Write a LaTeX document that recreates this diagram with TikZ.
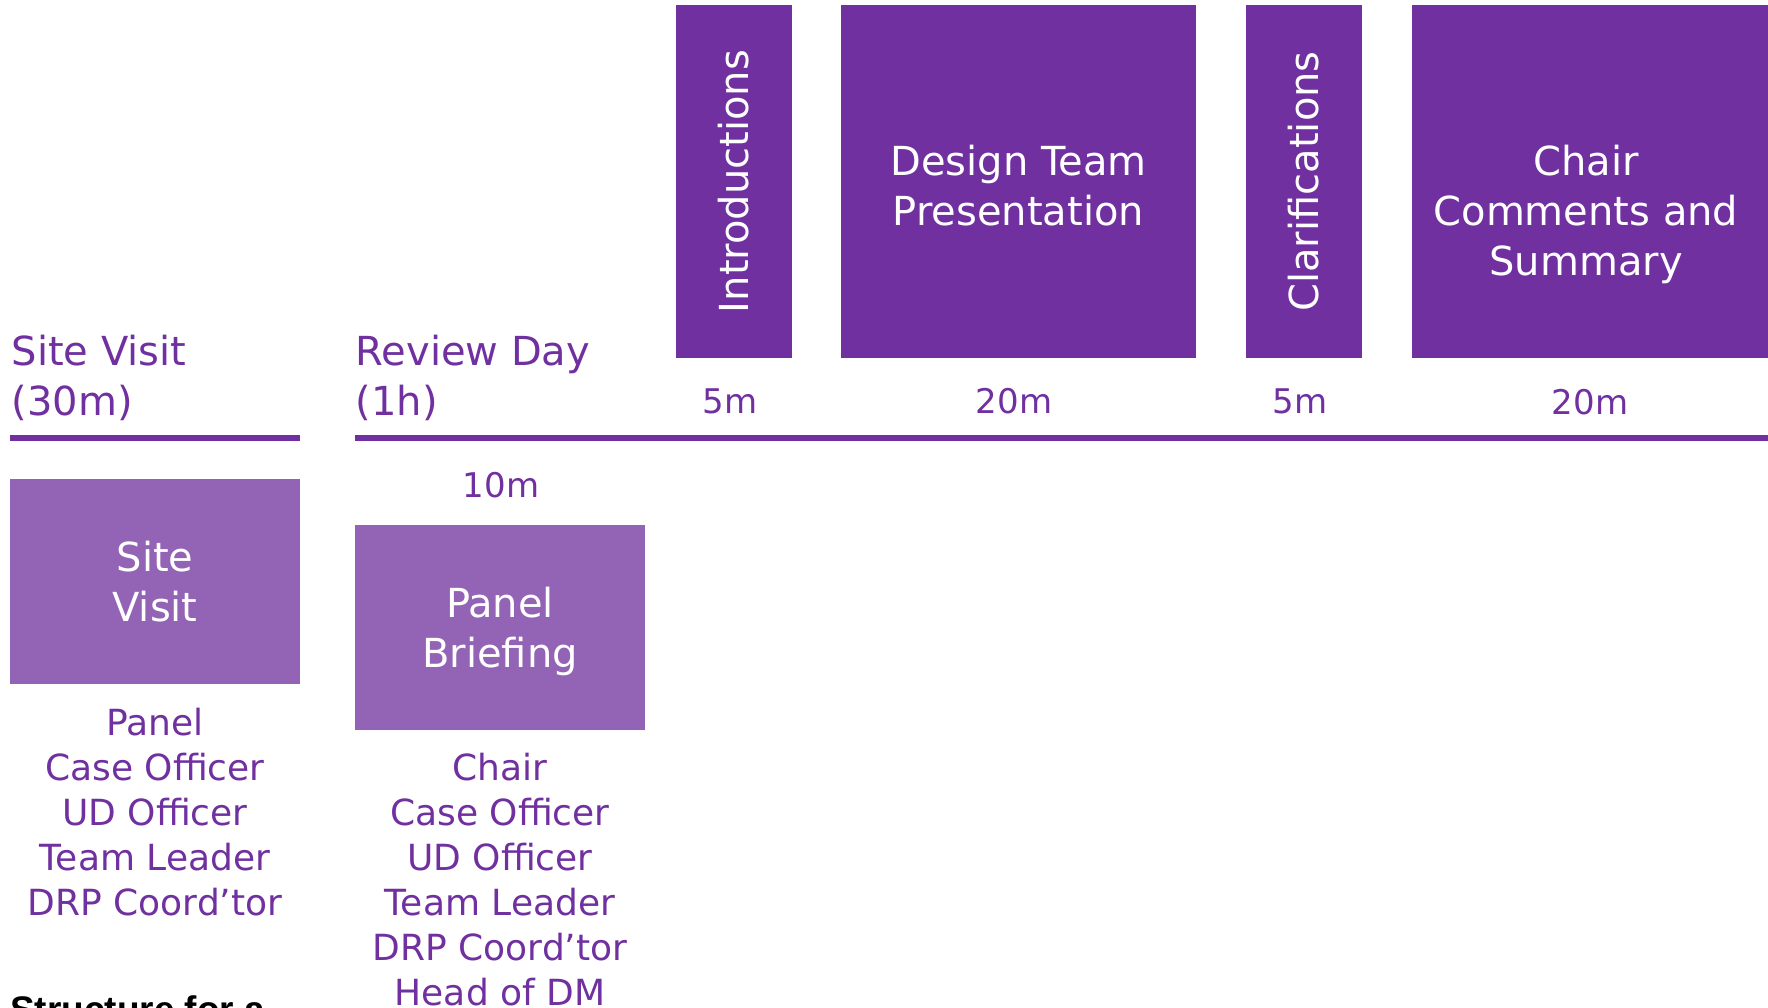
\documentclass[tikz,border=0pt]{standalone}
\usepackage{fontspec}
\setmainfont{DejaVu Sans}
\newfontfamily\titlefont{Liberation Sans}
\usepackage{xcolor}
\usetikzlibrary{positioning}
\definecolor{drpPurple}{HTML}{7030A0}
\definecolor{drpLilac}{RGB}{147,99,181}

\begin{document}
\begin{tikzpicture}[
	%	style def
    x=1pt, y=-1pt,
    stage box/.style={fill=drpPurple, draw=none, inner sep=0pt, outer sep=0pt},
    brief box/.style={fill=drpLilac, draw=none, inner sep=0pt, outer sep=0pt},
    box text/.style={text=white, align=center, inner sep=0pt, font=\fontsize{40}{50}\selectfont},
    time text/.style={text=drpPurple, inner sep=0pt, anchor=base, font=\fontsize{34}{40}\selectfont},
    who text/.style={text=drpPurple, align=center, inner sep=0pt, anchor=north, font=\fontsize{36}{45}\selectfont},
    head text/.style={text=drpPurple, align=left, inner sep=0pt, anchor=north west, font=\fontsize{40}{50}\selectfont},
    head line/.style={drpPurple, line width=6pt}
    ]
    \clip (0,0) rectangle (1768,1008);

	% review day stages
    \node[stage box, minimum width=116pt, minimum height=353pt] (intro) at (734,181.5) {};
    \node[stage box, minimum width=355pt, minimum height=353pt] (dtp) at (1018.5,181.5) {};
    \node[stage box, minimum width=116pt, minimum height=353pt] (clar) at (1304,181.5) {};
    \node[stage box, minimum width=356pt, minimum height=353pt] (chair) at (1590,181.5) {};
    \node[box text, rotate=90] (introT) at (intro.center) {Introductions};
    \node[box text, anchor=north, below=140pt of dtp.north] (dtpT) {Design Team\\Presentation};
    \node[box text, rotate=90] (clarT) at (clar.center) {Clarifications};
    \node[box text, anchor=north] (chairT) at (1586,145) {Chair\\Comments and\\Summary};

    % stage times
    \node[time text] (introM) at (730,413) {5m};
    \node[time text] (dtpM) at (1014,413) {20m};
    \node[time text] (clarM) at (1300,413) {5m};
    \node[time text] (chairM) at (1590,414) {20m};

    % headings and rules
    \node[head text] (svH) at (11.5,335) {Site Visit\\(30m)};
    \node[head text] (rdH) at (355.5,335) {Review Day\\(1h)};
    \draw[head line] (10,438) coordinate (svL) -- (300,438) coordinate (svR);
    \draw[head line] (355,438) coordinate (rdL) -- (1768,438) coordinate (rdR);

    % site visit and panel briefing
    \node[brief box, box text, minimum width=290pt, minimum height=205pt] (sv) at (155,581.5) {Site\\Visit};
    \node[brief box, box text, text depth=0pt, minimum width=290pt, minimum height=205pt] (pb) at (500,627.5) {Panel\\Briefing};
    \node[time text] (pbM) at (501,497) {10m};
    \node[who text, below=24pt of sv.south] (svWho) {Panel\\Case Officer\\UD Officer\\Team Leader\\DRP Coord’tor};
    \node[who text, below=23pt of pb.south] (pbWho) {Chair\\Case Officer\\UD Officer\\Team Leader\\DRP Coord’tor\\Head of DM};

    %caption cut by the page edge
    \node[inner sep=0pt, anchor=base west, font=\titlefont\bfseries\fontsize{37}{44}\selectfont] (cap) at (10,1022) {Structure for a};
\end{tikzpicture}
\end{document}
